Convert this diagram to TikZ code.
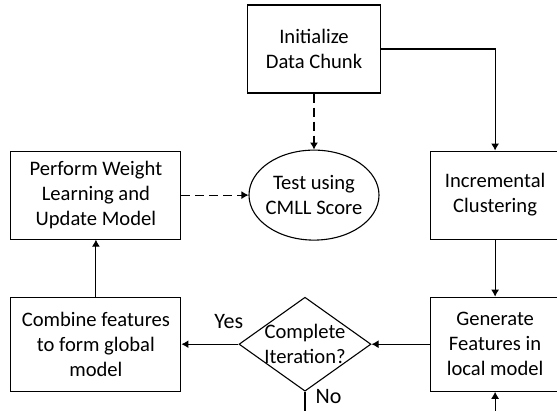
\documentclass[tikz,border=0pt]{standalone}
\usepackage{fontspec}
\setmainfont{Carlito}
\usetikzlibrary{shapes,arrows.meta,positioning}
\tikzset{block/.style = {draw, rectangle, align = center, minimum width = 133pt, minimum height = 88pt},
         test/.style = {draw, ellipse, align = center, inner sep = -5pt, minimum width = 130pt, minimum height = 90pt},
         decision/.style = {draw, diamond, align = center, inner sep = -10pt, minimum width = 132pt, minimum height = 94pt},
         answer/.style = {font = \fontsize{22}{26}\selectfont, inner sep = 1pt},
         input/.style = {coordinate},
}

\begin{document}
\begin{tikzpicture}[x = 1pt, y = -1pt, line width = 1.1pt, >={Latex[length=7pt, width=8pt]},
                    font = \fontsize{20.6}{25}\selectfont]
  \clip (0,0) rectangle (557,410);

  \node[block] (INIT) at (314,49) {Initialize\\Data Chunk};
  \node[test, below = 56pt of INIT] (TEST) {Test using\\CMLL Score};
  \node[block, left = 67pt of TEST, minimum width = 170pt] (PERFORM) {Perform Weight\\Learning and\\Update Model};
  \node[block, right = 50pt of TEST, minimum width = 130pt] (INCR) {Incremental\\Clustering};

  \node[block, below = 57pt of INCR, minimum width = 130pt, minimum height = 94pt] (GEN) {Generate\\Features in\\local model};
  \node[decision, left = 58pt of GEN] (DECIDE) {Complete\\Iteration?};
  \node[block, below = 57pt of PERFORM, minimum width = 170pt, minimum height = 94pt] (COMBINE) {Combine features\\to form global\\model};

  \node[input, below = 25pt of DECIDE] (NOEND) {};
  \node[input, below = 25pt of GEN] (LOOPIN) {};

  \draw[->] (INIT) -| (INCR);
  \draw[->, dash pattern = on 9pt off 5pt] (INIT) -- (TEST);
  \draw[->, dash pattern = on 9pt off 5pt] (PERFORM) -- (TEST);

  \draw[->] (INCR) -- (GEN);
  \draw[->] (GEN) -- (DECIDE);
  \draw[->] (DECIDE) -- node[answer, pos = 0.17, above = 14pt] {Yes} (COMBINE);
  \draw[->] (COMBINE) -- (PERFORM);

  \draw (DECIDE) -- node[answer, pos = 0.2, right = 9pt] {No} (NOEND);
  \draw[->] (LOOPIN) -- (GEN);

\end{tikzpicture}
\end{document}
